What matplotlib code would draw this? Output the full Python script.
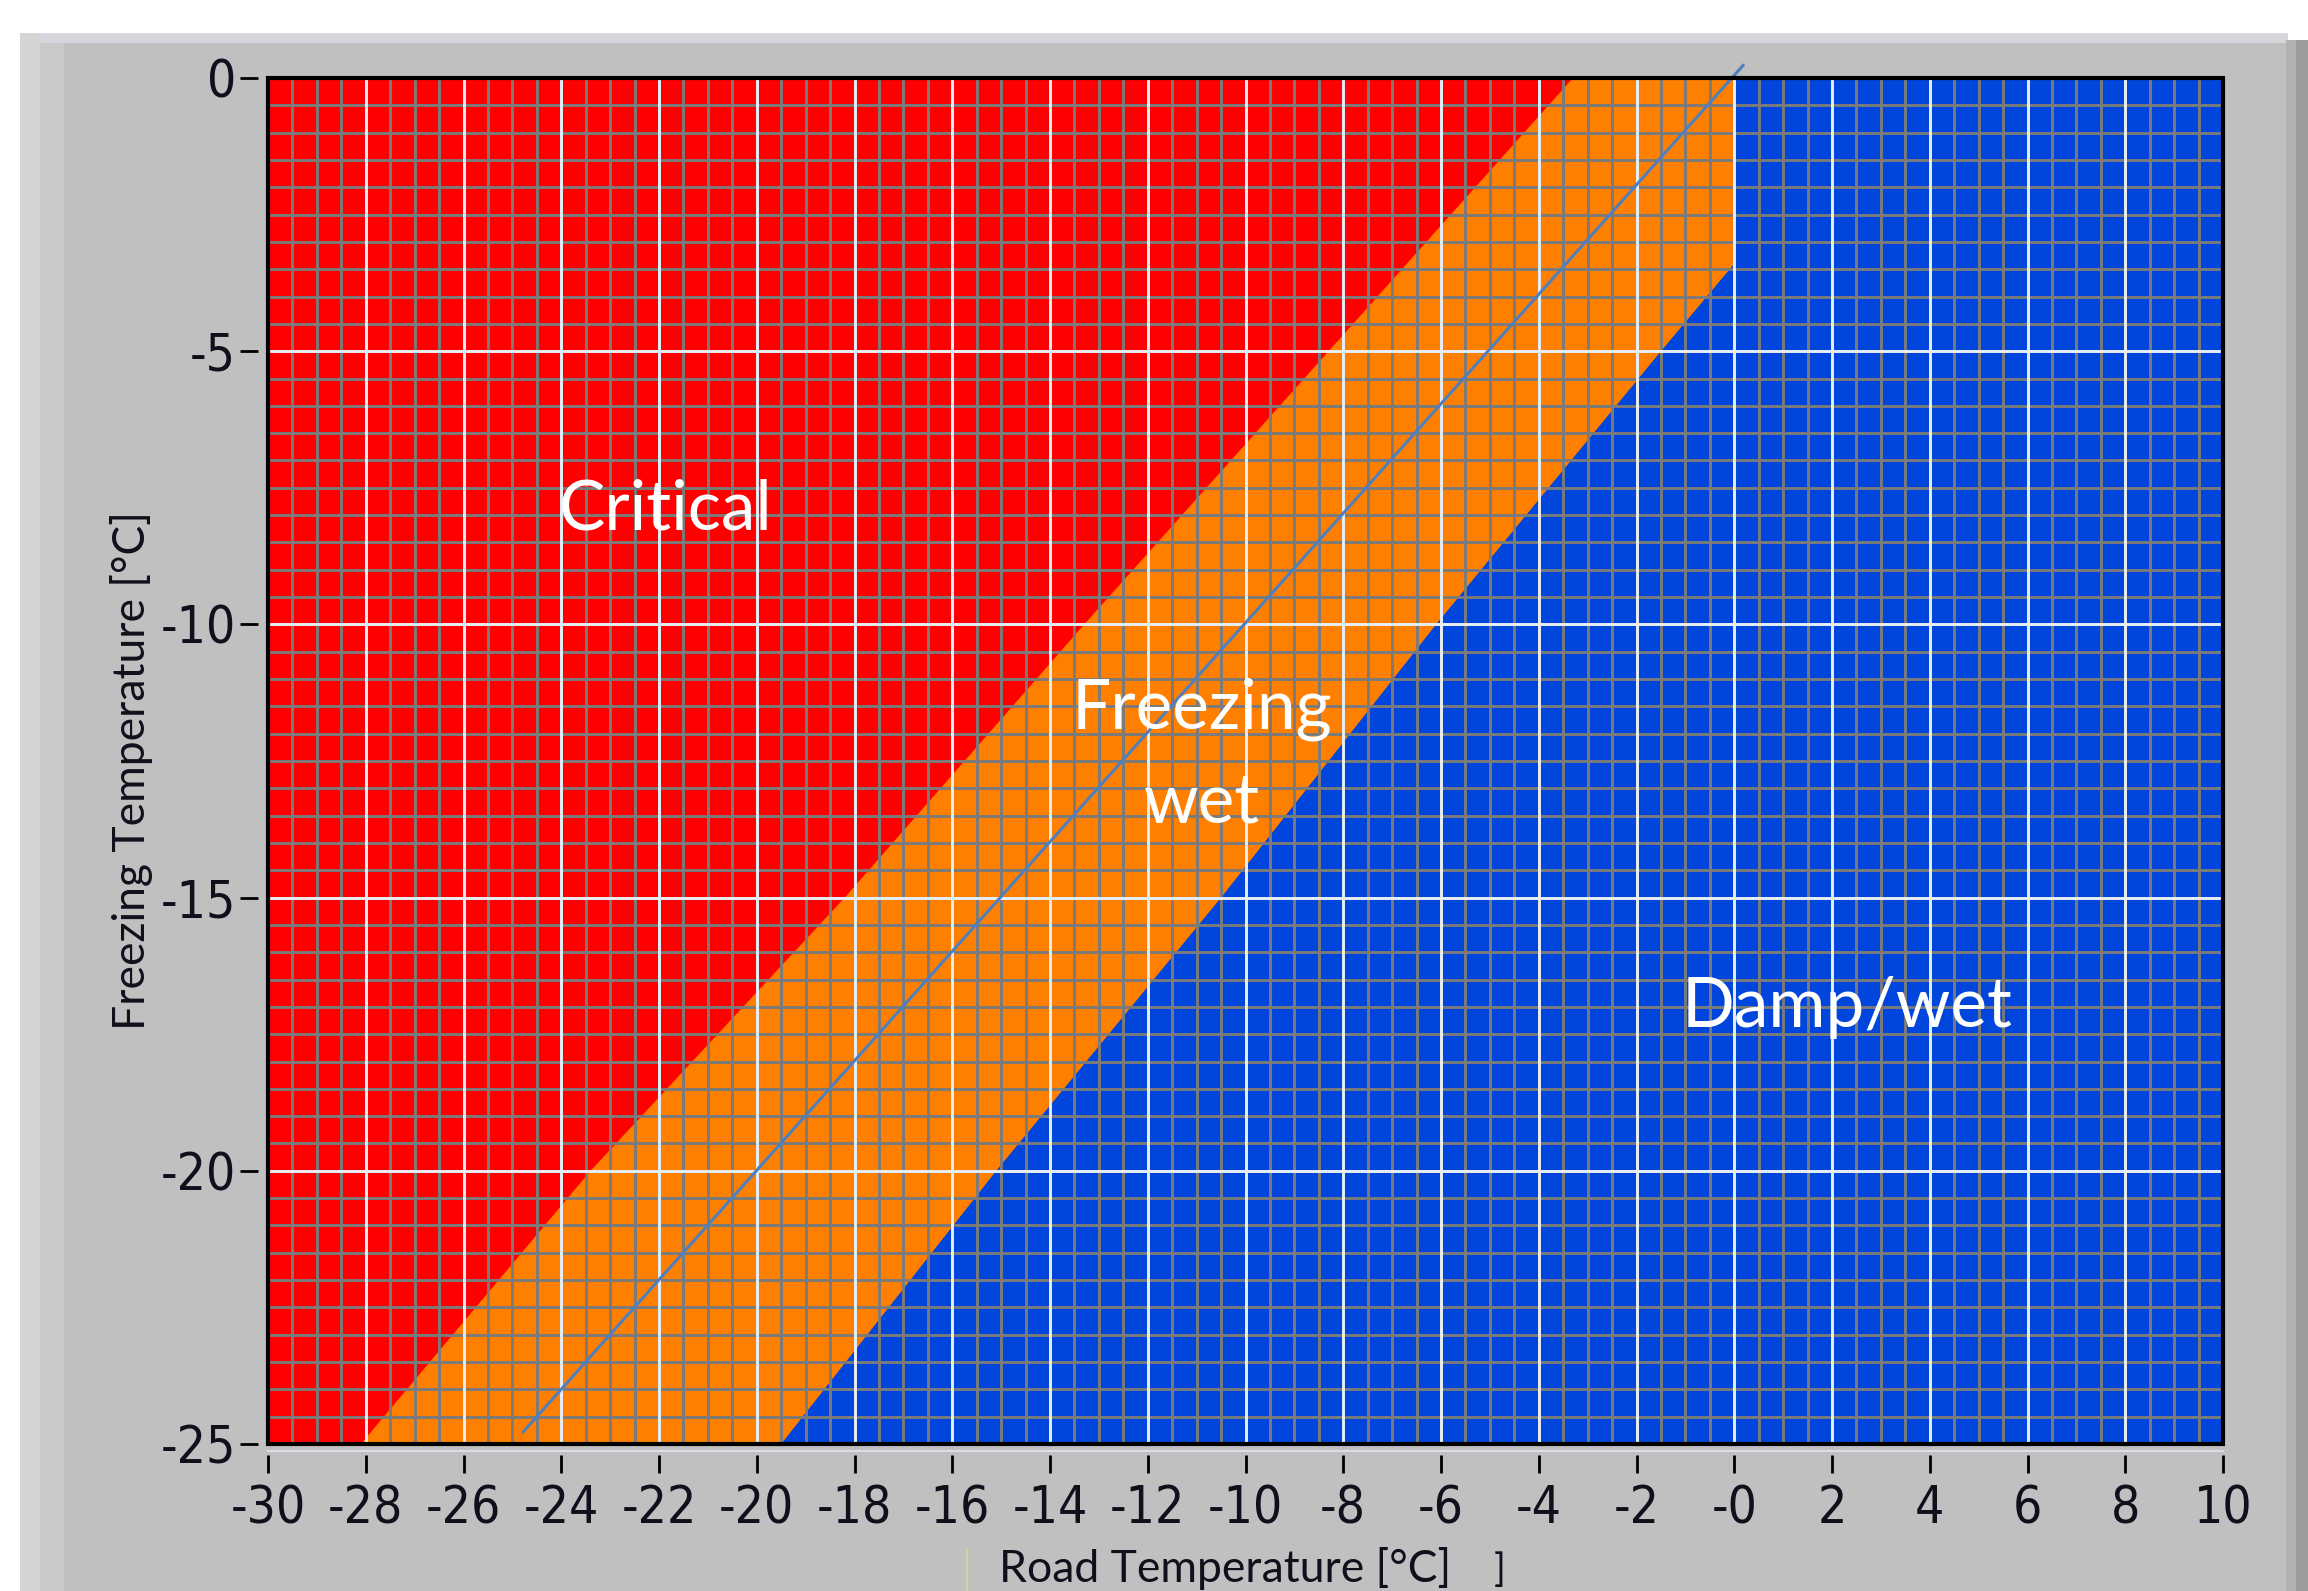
import numpy as np
import matplotlib
matplotlib.use("Agg")
import matplotlib.pyplot as plt
from matplotlib.patches import Rectangle
from matplotlib.lines import Line2D

# Boundary between "Critical" and "Freezing wet": road temperature at each freezing level
critical_freeze = [0, -5, -10, -15, -20, -25]
critical_road = [-3.3, -8.3, -13.3, -18.2, -23.4, -28.1]

# Boundary between "Freezing wet" and "Damp/wet"
damp_freeze = [0, -3.4, -5, -10, -15, -20, -25]
damp_road = [0, 0, -1.5, -6.1, -10.5, -15.1, -19.5]

# Line where road temperature equals freezing temperature
equal_road = [-24.8, 0.2]
equal_freeze = [-24.8, 0.25]

x_ticks = [-30, -28, -26, -24, -22, -20, -18, -16, -14, -12, -10,
           -8, -6, -4, -2, 0, 2, 4, 6, 8, 10]
x_tick_labels = ["-30", "-28", "-26", "-24", "-22", "-20", "-18", "-16",
                 "-14", "-12", "-10", "-8", "-6", "-4", "-2", "-0",
                 "2", "4", "6", "8", "10"]
y_ticks = [0, -5, -10, -15, -20, -25]
y_tick_labels = ["0", "-5", "-10", "-15", "-20", "-25"]

region_names = ["Critical", "Freezing", "wet", "Damp/wet"]
region_x = [-21.86, -10.89, -10.89, 2.31]
region_y = [-8.27, -11.90, -13.62, -17.37]

RED = "#ff0000"
ORANGE = "#ff8000"
BLUE = "#0046dc"
PANEL = "#c0c0c0"

W, H = 2308, 1591
fig = plt.figure(figsize=(W / 100, H / 100), dpi=100)
fig.patch.set_facecolor("white")


def panel_rect(x0, y0, x1, y1, color, z=0):
    """Rectangle given in pixels from the top-left corner of the figure."""
    fig.add_artist(Rectangle((x0 / W, 1 - y1 / H), (x1 - x0) / W, (y1 - y0) / H,
                             transform=fig.transFigure, facecolor=color,
                             edgecolor="none", zorder=z))


# Instrument-style grey panel behind the graph
panel_rect(20, 33, 2288, H, PANEL, -5)
panel_rect(20, 33, 2288, 43, "#d6d6dc", -4)
panel_rect(20, 33, 40, H, "#d4d4d4", -4)
panel_rect(40, 43, 64, H, "#cacaca", -4)
panel_rect(2286, 40, 2296, H, "#b2b2b2", -4)
panel_rect(2296, 40, W, H, "#9c9c9c", -4)

ax = fig.add_axes([268 / W, 1 - 1444 / H, 1955 / W, 1366 / H])
ax.set_xlim(-30, 10)
ax.set_ylim(-25, 0)
ax.set_facecolor(ORANGE)

# Classification regions
ax.fill([-30] + critical_road + [-30], [0] + critical_freeze + [-25],
        color=RED, lw=0, zorder=1)
ax.fill([10] + damp_road + [10], [0] + damp_freeze + [-25],
        color=BLUE, lw=0, zorder=1)

# Fine grid every 0.5 °C, coarse grid on the labelled divisions
x_minor = np.arange(-29.5, 10, 0.5)
y_minor = np.arange(-24.5, 0, 0.5)
ax.vlines(x_minor, -25, 0, colors="#7b7b7b", lw=2.1, zorder=1.5)
ax.hlines(y_minor, -30, 10, colors="#7b7b7b", lw=2.1, zorder=1.5)
ax.vlines(x_ticks[1:-1], -25, 0, colors="#e8eef6", lw=2.1, zorder=1.6)
ax.hlines(y_ticks[1:-1], -30, 10, colors="#e8eef6", lw=2.1, zorder=1.6)

ax.plot(equal_road, equal_freeze, color="#4f7fbf", lw=2.2,
        clip_on=False, zorder=3, solid_capstyle="butt")

# Plot frame
ax.add_patch(Rectangle((0, 0), 1, 1, transform=ax.transAxes, fill=False,
                       edgecolor="black", lw=3, clip_on=False, zorder=4))
ax.add_line(Line2D([0, 1], [-0.0048, -0.0048], transform=ax.transAxes,
                   color="#dcdce8", lw=1.5, clip_on=False, zorder=4))

for side in ["top", "right", "bottom", "left"]:
    ax.spines[side].set_visible(False)
ax.spines["bottom"].set_position(("outward", 8))
ax.spines["left"].set_position(("outward", 7))

tick_font = ["Liberation Sans Narrow", "DejaVu Sans"]
ax.set_xticks(x_ticks, x_tick_labels, fontfamily=tick_font,
              fontstretch="condensed")
ax.set_yticks(y_ticks, y_tick_labels, fontfamily=tick_font,
              fontstretch="condensed")
ax.tick_params(axis="both", direction="out", length=13, width=2,
               color="black", labelsize=37, labelcolor="#10101c")
ax.tick_params(axis="x", pad=8)
ax.tick_params(axis="y", pad=3)

label_font = ["Lato", "DejaVu Sans"]
ax.set_xlabel("Road Temperature [°C]", fontsize=32, fontfamily=label_font,
              color="#10101c", va="center")
ax.xaxis.set_label_coords(0.4895, -0.0908)
ax.set_ylabel("Freezing Temperature [°C]", fontsize=32, fontfamily=label_font,
              color="#10101c", va="center")
ax.yaxis.set_label_coords(-0.0696, 0.4927)

ax.text(0.630, -0.1055, "]", transform=ax.transAxes, fontsize=28,
        fontfamily=label_font, color="#10101c", ha="center", va="bottom")
ax.add_line(Line2D([0.3575, 0.3575], [-0.077, -0.11], transform=ax.transAxes,
                   color="#d8d89a", lw=1.2, clip_on=False))

for name, rx, ry in zip(region_names, region_x, region_y):
    ax.text(rx, ry, name, color="white", fontsize=50, fontfamily=label_font,
            ha="center", va="baseline", zorder=5)

fig.savefig("out.png", dpi=100, facecolor=fig.get_facecolor())
